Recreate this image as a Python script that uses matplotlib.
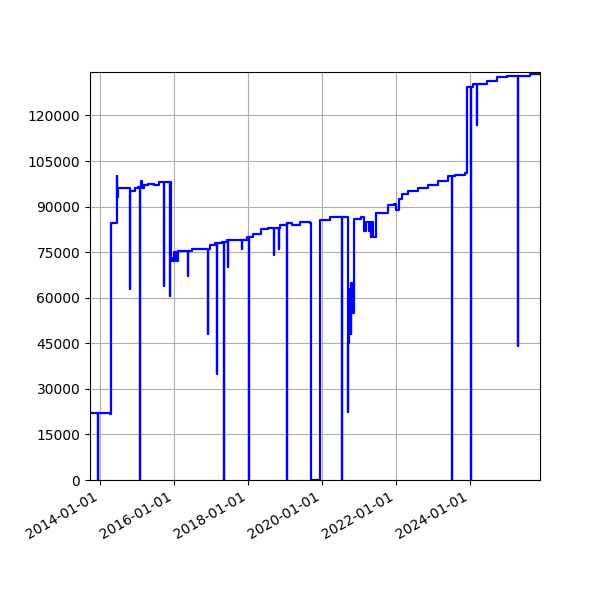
import numpy as np
import pandas as pd
import matplotlib
matplotlib.use('Agg')
import matplotlib.pyplot as plt
import matplotlib.dates as mdates

# base level changes: decimal year, value
step_years = [2013.73, 2014.27, 2014.30, 2014.46, 2014.47, 2014.50, 2014.81, 2014.95, 2015.03, 2015.10,
              2015.15, 2015.20, 2015.30, 2015.45, 2015.60, 2015.93, 2015.95, 2016.00, 2016.05, 2016.10,
              2016.30, 2016.48, 2016.90, 2016.98, 2017.10, 2017.30, 2017.43, 2017.80, 2017.84, 2017.98,
              2018.15, 2018.35, 2018.55, 2018.86, 2019.05, 2019.20, 2019.40, 2019.68, 2019.70, 2019.95,
              2020.22, 2020.54, 2020.72, 2020.74, 2020.78, 2020.80, 2020.83, 2020.86, 2021.05, 2021.12,
              2021.14, 2021.20, 2021.28, 2021.30, 2021.38, 2021.46, 2021.80, 2021.95, 2022.00, 2022.10,
              2022.16, 2022.32, 2022.60, 2022.87, 2023.14, 2023.41, 2023.59, 2023.86, 2023.92, 2024.08,
              2024.48, 2024.73, 2025.00, 2025.62, 2025.90]
step_values = [22000, 21800, 84500, 100000, 93000, 96000, 95000, 96000, 96500, 98500,
               96000, 97000, 97500, 97000, 98000, 73000, 72000, 75000, 72000, 75500,
               75500, 76000, 76000, 77500, 78000, 78500, 79000, 79000, 79000, 80000,
               81000, 82500, 83000, 84000, 84500, 84000, 85000, 84500, 0, 85500,
               86500, 86500, 45000, 63000, 48000, 65000, 55000, 86000, 86500, 86500,
               82000, 85000, 82000, 85000, 80000, 88000, 90500, 91000, 89000, 92500,
               94000, 95000, 96000, 97000, 98500, 100000, 100500, 101000, 129500, 130500,
               131500, 132500, 133000, 133500, 134000]

# short spikes down from the base level: decimal year, lowest value
spike_years = [2013.95, 2014.80, 2015.08, 2015.73, 2015.89, 2016.38, 2016.92, 2017.16, 2017.35, 2017.46,
               2017.83, 2018.03, 2018.71, 2018.85, 2019.05, 2019.90, 2020.54, 2020.70, 2021.32, 2023.51,
               2024.03, 2024.19, 2025.30]
spike_lows = [0, 63000, 0, 64000, 60500, 67000, 48000, 35000, 0, 70000,
              76000, 0, 74000, 76000, 0, 0, 0, 22500, 80000, 0,
              0, 117000, 44000]

def to_date(y):
    yr = int(y)
    return pd.Timestamp(year=yr, month=1, day=1) + pd.Timedelta(days=(y - yr) * 365.25)

# merge base steps and spikes into one series
pts = []
for i, y in enumerate(step_years):
    pts.append((y, step_values[i]))
    if i + 1 < len(step_years):
        pts.append((step_years[i + 1], step_values[i]))
for y, low in zip(spike_years, spike_lows):
    idx = np.searchsorted(step_years, y, side='right') - 1
    base = step_values[idx]
    pts += [(y, base), (y, low), (y, base)]
order = sorted(range(len(pts)), key=lambda k: (pts[k][0], k))
xs = [to_date(pts[k][0]) for k in order]
ys = [pts[k][1] for k in order]

fig = plt.figure(figsize=(6, 6), dpi=100)
ax = fig.add_axes([0.15, 0.2, 0.75, 0.68])
ax.plot(xs, ys, color='blue', lw=1.6)
ax.set_xlim(to_date(2013.73), to_date(2025.9))
ax.set_ylim(0, 134300)
ax.set_yticks(np.arange(0, 130000, 15000))
ax.xaxis.set_major_locator(mdates.YearLocator(2))
ax.xaxis.set_major_formatter(mdates.DateFormatter('%Y-%m-%d'))
ax.grid(True)
for lbl in ax.get_xticklabels():
    lbl.set_rotation(30)
    lbl.set_ha('right')
fig.savefig('out.png')
